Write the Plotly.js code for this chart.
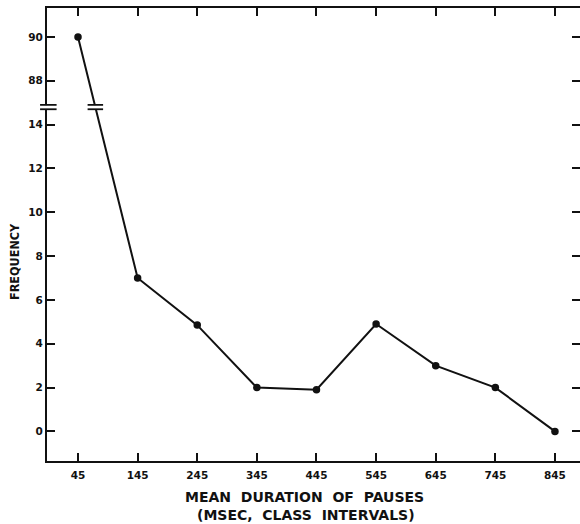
<!DOCTYPE html>
<html>
<head>
<meta charset="utf-8">
<script src="https://cdn.plot.ly/plotly-3.0.1.min.js"></script>
<style>html,body{margin:0;padding:0;background:#fff;overflow:hidden}</style>
</head>
<body>
<div id="chart" style="width:580px;height:524px"></div>
<script>
// ---- data ----
const durations = [45, 145, 245, 345, 445, 545, 645, 745, 845];
const frequency = [90, 7, 4.85, 2, 1.9, 4.9, 3, 2, 0];
const xTickLabels = ['45', '145', '245', '345', '445', '545', '645', '745', '845'];
const yTickValues = [0, 2, 4, 6, 8, 10, 12, 14, 88, 90];

// broken axis: values above the break are shifted down by this amount
const BREAK_LOW = 15, BREAK_HIGH = 87, BREAK_SHIFT = 72;
const mapY = v => (v > (BREAK_LOW + BREAK_HIGH) / 2 ? v - BREAK_SHIFT : v);

const yPlot = frequency.map(mapY);
const yTickPos = yTickValues.map(mapY);
const yTickText = yTickValues.map(String);

const tickFont = {family: 'DejaVu Sans', size: 10.5, color: '#111', weight: 'bold'};
const titleFont = {family: 'DejaVu Sans', size: 14, color: '#111', weight: 'bold'};

// position of break mark on the line (between first two points)
const yBreak = 14.8;
const xBreakLine = durations[0] + (yPlot[0] - yBreak) / (yPlot[0] - yPlot[1]) * (durations[1] - durations[0]);

const trace = {
  x: durations,
  y: yPlot,
  type: 'scatter',
  mode: 'lines+markers',
  line: {color: '#111', width: 2},
  marker: {color: '#111', size: 7.5},
  hoverinfo: 'skip',
  cliponaxis: false
};

const shapes = [];
// white gap + two bars on the left axis
shapes.push({type: 'rect', xref: 'paper', yref: 'y', x0: -0.02, x1: 0.02, y0: yBreak - 0.09, y1: yBreak + 0.09,
  fillcolor: '#fff', line: {width: 0}, layer: 'above'});
[yBreak - 0.1, yBreak + 0.1].forEach(yy => shapes.push({type: 'line', xref: 'paper', yref: 'y',
  x0: -0.013, x1: 0.018, y0: yy, y1: yy, line: {color: '#111', width: 1.8}, layer: 'above'}));
// white gap + two bars on the data line
shapes.push({type: 'rect', xref: 'x', yref: 'y', x0: xBreakLine - 6, x1: xBreakLine + 6, y0: yBreak - 0.09, y1: yBreak + 0.09,
  fillcolor: '#fff', line: {width: 0}, layer: 'above'});
[yBreak - 0.1, yBreak + 0.1].forEach(yy => shapes.push({type: 'line', xref: 'x', yref: 'y',
  x0: xBreakLine - 13, x1: xBreakLine + 13, y0: yy, y1: yy, line: {color: '#111', width: 1.8}, layer: 'above'}));

const layout = {
  width: 580, height: 524,
  margin: {l: 47, r: 0, t: 8, b: 63, pad: 0},
  paper_bgcolor: '#fff', plot_bgcolor: '#fff',
  showlegend: false,
  xaxis: {
    range: [-7, 887],
    tickmode: 'array', tickvals: durations, ticktext: xTickLabels,
    ticks: 'inside', ticklen: 8, tickwidth: 2, tickcolor: '#111',
    showline: true, linecolor: '#111', linewidth: 2, mirror: 'ticks',
    showgrid: false, zeroline: false,
    tickfont: tickFont, ticklabelstandoff: 3
  },
  yaxis: {
    range: [-1.35, 19.32],
    tickmode: 'array', tickvals: yTickPos, ticktext: yTickText,
    ticks: 'inside', ticklen: 8, tickwidth: 2, tickcolor: '#111',
    showline: true, linecolor: '#111', linewidth: 2, mirror: 'ticks',
    showgrid: false, zeroline: false,
    tickfont: tickFont, ticklabelstandoff: 0
  },
  shapes: shapes,
  annotations: [
    {text: 'MEAN  DURATION  OF  PAUSES', xref: 'paper', yref: 'paper',
     x: (304 - 47) / 533, y: -(497 - 461) / 453, xanchor: 'center', yanchor: 'middle',
     showarrow: false, font: titleFont},
    {text: '(MSEC,  CLASS  INTERVALS)', xref: 'paper', yref: 'paper',
     x: (306 - 47) / 533, y: -(515 - 461) / 453, xanchor: 'center', yanchor: 'middle',
     showarrow: false, font: titleFont},
    {text: 'FREQUENCY', xref: 'paper', yref: 'paper', textangle: -90,
     x: (14 - 47) / 533, y: (461 - 262) / 453, xanchor: 'center', yanchor: 'middle',
     showarrow: false, font: {family: 'Liberation Sans Narrow, DejaVu Sans Condensed, DejaVu Sans', size: 12.5, color: '#111', weight: 'bold'}}
  ]
};

Plotly.newPlot('chart', [trace], layout, {staticPlot: true, displayModeBar: false});
</script>
</body>
</html>
